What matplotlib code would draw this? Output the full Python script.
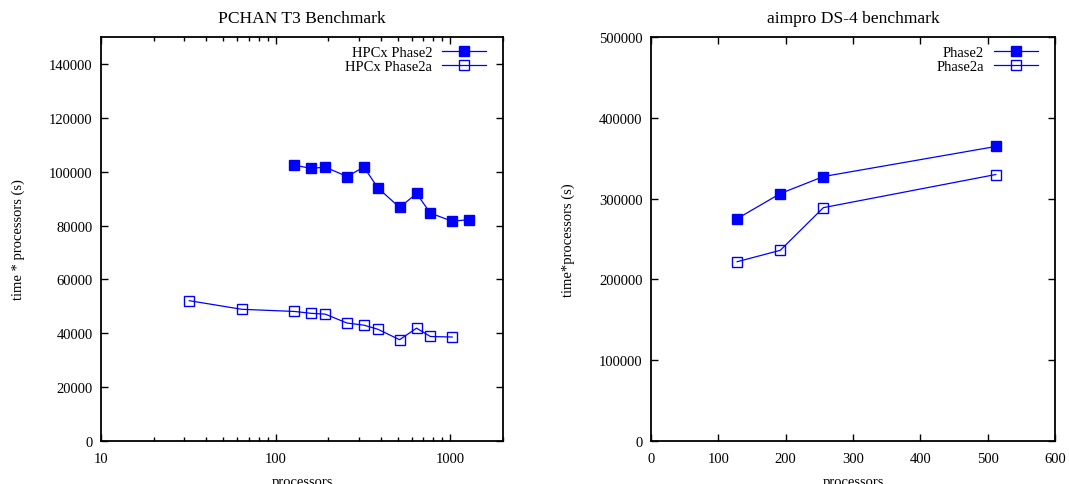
import matplotlib
matplotlib.use("Agg")
import matplotlib.pyplot as plt
from matplotlib.ticker import FixedLocator, FuncFormatter, LogLocator, NullFormatter

plt.rcParams['font.family'] = ['Liberation Serif', 'DejaVu Serif']
plt.rcParams['font.size'] = 10.5

# PCHAN T3 benchmark
pchan_procs_p2 = [128, 160, 192, 256, 320, 384, 512, 640, 768, 1024, 1280]
pchan_p2 = [102400, 101200, 101700, 98200, 101700, 94000, 86700, 91900, 84600, 81600, 82200]
pchan_procs_p2a = [32, 64, 128, 160, 192, 256, 320, 384, 512, 640, 768, 1024]
pchan_p2a = [52100, 48900, 48100, 47400, 47100, 43800, 43000, 41500, 37600, 41900, 38800, 38600]

# aimpro DS-4 benchmark
aim_procs = [128, 192, 256, 512]
aim_p2 = [275200, 306200, 327300, 364500]
aim_p2a = [221900, 236000, 288800, 329800]

blue = '#0000ff'
W, H = 1069, 485

fig = plt.figure(figsize=(W / 100, H / 100), dpi=100)
ax1 = fig.add_axes([101 / W, 1 - 442 / H, (503 - 101) / W, (442 - 38) / H])
ax2 = fig.add_axes([651 / W, 1 - 442 / H, (1055 - 651) / W, (442 - 38) / H])

def style(ax):
    for s in ax.spines.values():
        s.set_linewidth(1.3)
    ax.tick_params(which='both', direction='in', top=True, right=True, width=1.0)
    ax.tick_params(which='major', length=5, pad=6)
    ax.tick_params(axis='x', which='major', pad=8)
    ax.tick_params(which='minor', length=3)

def legend(ax):
    w = ax.get_position().width * W
    h = ax.get_position().height * H
    ax.legend(loc='upper right', frameon=False, markerfirst=False, handlelength=3.0,
              borderaxespad=0.0, borderpad=0.0, labelspacing=0.02, handletextpad=0.69,
              bbox_to_anchor=(1 - 17 / w, 1 - 9 / h))

ax1.plot(pchan_procs_p2, pchan_p2, color=blue, lw=0.9, marker='s', ms=7.5,
         mfc=blue, mec=blue, label='HPCx Phase2')
ax1.plot(pchan_procs_p2a, pchan_p2a, color=blue, lw=0.9, marker='s', ms=7.5,
         mfc='none', mec=blue, mew=1.0, label='HPCx Phase2a')
ax1.set_xscale('log')
ax1.set_xlim(10, 2000)
ax1.set_ylim(0, 150000)
ax1.xaxis.set_major_locator(FixedLocator([10, 100, 1000]))
ax1.xaxis.set_major_formatter(FuncFormatter(lambda v, p: '%d' % round(v)))
ax1.xaxis.set_minor_locator(LogLocator(base=10, subs=range(2, 10)))
ax1.xaxis.set_minor_formatter(NullFormatter())
ax1.set_yticks(range(0, 150000, 20000))
ax1.set_title('PCHAN T3 Benchmark', pad=11)
ax1.set_xlabel('processors', labelpad=7)
ax1.set_ylabel('time * processors (s)', labelpad=17)
style(ax1)
legend(ax1)

ax2.plot(aim_procs, aim_p2, color=blue, lw=0.9, marker='s', ms=7.5,
         mfc=blue, mec=blue, label='Phase2')
ax2.plot(aim_procs, aim_p2a, color=blue, lw=0.9, marker='s', ms=7.5,
         mfc='none', mec=blue, mew=1.0, label='Phase2a')
ax2.set_xlim(0, 600)
ax2.set_ylim(0, 500000)
ax2.set_xticks(range(0, 601, 100))
ax2.set_yticks(range(0, 500001, 100000))
ax2.set_title('aimpro DS-4 benchmark', pad=11)
ax2.set_xlabel('processors', labelpad=7)
ax2.set_ylabel('time*processors (s)', labelpad=17)
style(ax2)
legend(ax2)

fig.savefig('out.png', dpi=100)
